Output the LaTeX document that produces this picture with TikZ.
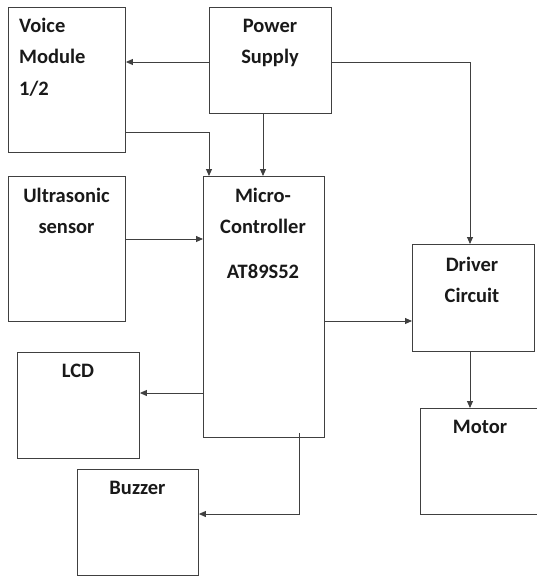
\documentclass[tikz,border=0pt]{standalone}
\usepackage{fontspec}
\setmainfont{Carlito}
\usetikzlibrary{arrows.meta,calc}
\tikzset{
  blk/.style={draw=black!75, line width=0.9pt, inner sep=0pt, anchor=north west, fill=none},
  lbl/.style={font=\fontsize{20.5}{22}\selectfont\bfseries, inner sep=0pt, anchor=base, text=black!90},
  conn/.style={draw=black!75, line width=0.9pt, -{Triangle[length=7pt,width=6pt]}},
}
\begin{document}
\begin{tikzpicture}[x=1pt,y=-1pt]
\useasboundingbox (0,0) rectangle (537,576);
% boxes
\node[blk, minimum width=117pt, minimum height=145pt] (vm)  at (8,7) {};
\node[blk, minimum width=122pt, minimum height=106pt] (ps)  at (209,7) {};
\node[blk, minimum width=117pt, minimum height=145pt] (us)  at (8,176) {};
\node[blk, minimum width=121pt, minimum height=261pt] (mc)  at (203,176) {};
\node[blk, minimum width=122pt, minimum height=107pt] (dc)  at (412,244) {};
\node[blk, minimum width=122pt, minimum height=106pt] (lcd) at (17,352) {};
\node[blk, minimum width=122pt, minimum height=106pt] (mo)  at (420,408) {};
\node[blk, minimum width=121pt, minimum height=106pt] (bz)  at (77,469) {};
% labels
\node[lbl, anchor=base west] (t1) at (19,32) {Voice};
\node[lbl, anchor=base west] (t2) at (19,63) {Module};
\node[lbl, anchor=base west] (t3) at (19,95) {1/2};
\node[lbl] (t4) at (270,32) {Power};
\node[lbl] (t5) at (270,63) {Supply};
\node[lbl] (t6) at (66.5,202) {Ultrasonic};
\node[lbl] (t7) at (66.5,233) {sensor};
\node[lbl] (t8) at (263,202) {Micro-};
\node[lbl] (t9) at (263,233) {Controller};
\node[lbl] (t10) at (263,278) {AT89S52};
\node[lbl] (t11) at (472,271) {Driver};
\node[lbl] (t12) at (472,302) {Circuit};
\node[lbl] (t13) at (78,377) {LCD};
\node[lbl] (t14) at (480,433) {Motor};
\node[lbl] (t15) at (137.5,494) {Buzzer};
% connectors
\draw[conn] (ps.west |- 0,62) -- (vm.east |- 0,62);
\draw[conn] (vm.east |- 0,132) -| (mc.north -| 209,0);
\draw[conn] (ps.south -| 263,0) -- (mc.north -| 263,0);
\draw[conn] (ps.east |- 0,62) -| (dc.north -| 470,0);
\draw[conn] (us.east |- 0,239) -- (mc.west |- 0,239);
\draw[conn] (mc.east |- 0,321) -- (dc.west |- 0,321);
\draw[conn] (dc.south -| 470,0) -- (mo.north -| 470,0);
\draw[conn] (mc.west |- 0,393) -- (lcd.east |- 0,393);
\draw[conn] ([yshift=5pt]mc.south -| 299,0) |- (bz.east |- 0,514);
\end{tikzpicture}
\end{document}
